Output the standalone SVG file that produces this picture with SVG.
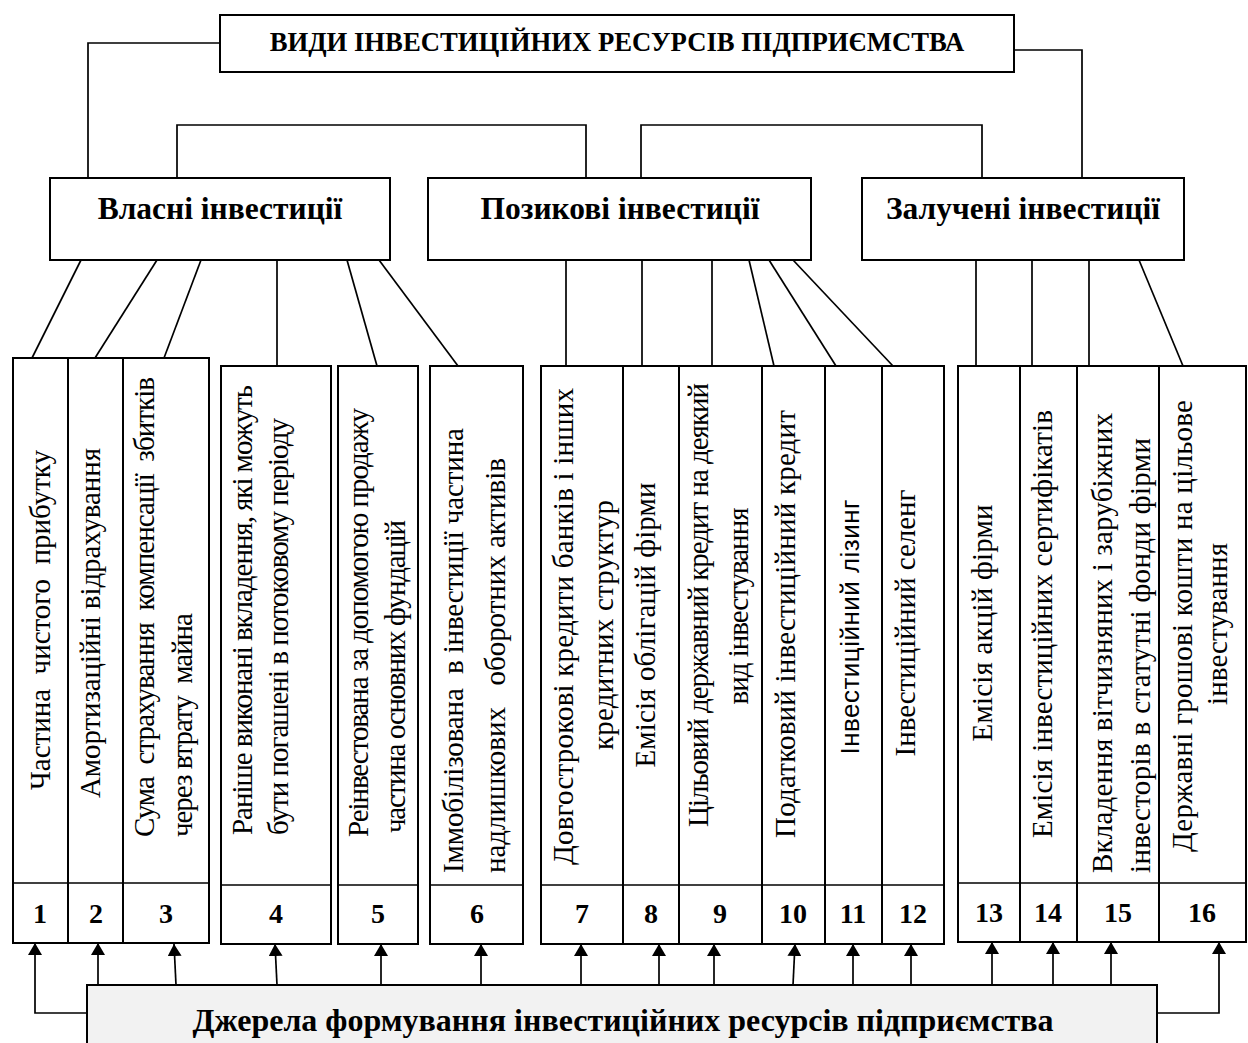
<svg xmlns="http://www.w3.org/2000/svg" width="1248" height="1043" viewBox="0 0 1248 1043">
<style>
.box{fill:#fff;stroke:#000;stroke-width:2}
.src{fill:#f2f2f2;stroke:#000;stroke-width:2}
.ln{fill:none;stroke:#000;stroke-width:1.7}
.t{font-family:"Liberation Serif","Times New Roman",serif;fill:#000}
.b{font-weight:bold}
.title{font-size:26.7px}
.grp{font-size:31.5px}
.bot{font-size:32px}
.num{font-size:28px;text-anchor:middle}
.r{font-size:29px}
.s{font-family:"Liberation Sans",Arial,sans-serif;font-size:26px;fill:#000}
.m{text-anchor:middle}
</style>
<defs>
<marker id="ah" viewBox="0 0 12 14" refX="12" refY="7" markerWidth="12" markerHeight="14" markerUnits="userSpaceOnUse" orient="auto">
<path d="M0,0 L12,7 L0,14 z" fill="#000"/>
</marker>
</defs>
<rect width="1248" height="1043" fill="#fff"/>

<g id="connectors">
<polyline class="ln" points="220,43 88,43 88,178"/>
<polyline class="ln" points="1014,50 1082,50 1082,178"/>
<polyline class="ln" points="177,178 177,125 586,125 586,178"/>
<polyline class="ln" points="641,178 641,125 982,125 982,178"/>
<line class="ln" x1="81" y1="260" x2="32" y2="358"/>
<line class="ln" x1="157" y1="260" x2="95" y2="358"/>
<line class="ln" x1="201" y1="260" x2="164" y2="358"/>
<line class="ln" x1="277" y1="260" x2="277" y2="366"/>
<line class="ln" x1="347" y1="260" x2="377" y2="366"/>
<line class="ln" x1="379" y1="260" x2="458" y2="366"/>
<line class="ln" x1="566" y1="260" x2="566" y2="366"/>
<line class="ln" x1="642" y1="260" x2="642" y2="366"/>
<line class="ln" x1="712" y1="260" x2="712" y2="366"/>
<line class="ln" x1="749" y1="260" x2="774" y2="366"/>
<line class="ln" x1="769" y1="260" x2="836" y2="366"/>
<line class="ln" x1="793" y1="260" x2="893" y2="366"/>
<line class="ln" x1="976" y1="260" x2="976" y2="366"/>
<line class="ln" x1="1032" y1="260" x2="1032" y2="366"/>
<line class="ln" x1="1089" y1="260" x2="1089" y2="366"/>
<line class="ln" x1="1139" y1="260" x2="1183" y2="366"/>
<polyline class="ln" points="87,1013 35,1013 35,943" marker-end="url(#ah)"/>
<line class="ln" x1="98" y1="985" x2="98" y2="943" marker-end="url(#ah)"/>
<line class="ln" x1="176" y1="985" x2="174" y2="944" marker-end="url(#ah)"/>
<line class="ln" x1="277" y1="985" x2="275" y2="944" marker-end="url(#ah)"/>
<line class="ln" x1="381" y1="985" x2="381" y2="944" marker-end="url(#ah)"/>
<line class="ln" x1="481" y1="985" x2="481" y2="944" marker-end="url(#ah)"/>
<line class="ln" x1="581" y1="985" x2="581" y2="944" marker-end="url(#ah)"/>
<line class="ln" x1="659" y1="985" x2="659" y2="944" marker-end="url(#ah)"/>
<line class="ln" x1="714" y1="985" x2="714" y2="944" marker-end="url(#ah)"/>
<line class="ln" x1="793" y1="985" x2="795" y2="944" marker-end="url(#ah)"/>
<line class="ln" x1="853" y1="985" x2="853" y2="944" marker-end="url(#ah)"/>
<line class="ln" x1="911" y1="985" x2="911" y2="944" marker-end="url(#ah)"/>
<line class="ln" x1="992" y1="985" x2="992" y2="942" marker-end="url(#ah)"/>
<line class="ln" x1="1053" y1="985" x2="1053" y2="942" marker-end="url(#ah)"/>
<line class="ln" x1="1111" y1="985" x2="1111" y2="942" marker-end="url(#ah)"/>
<polyline class="ln" points="1157,1013 1219,1013 1219,942" marker-end="url(#ah)"/>
</g>

<g id="title">
<rect class="box" x="220" y="15" width="794" height="57"/>
<text class="t b title m" x="617" y="51">ВИДИ ІНВЕСТИЦІЙНИХ РЕСУРСІВ ПІДПРИЄМСТВА</text>
</g>

<g id="own">
<rect class="box" x="50" y="178" width="340" height="82"/>
<text class="t b grp m" x="220" y="219">Власні інвестиції</text>
</g>
<g id="loan">
<rect class="box" x="428" y="178" width="383" height="82"/>
<text class="t b grp m" x="620" y="219">Позикові інвестиції</text>
</g>
<g id="attracted">
<rect class="box" x="862" y="178" width="322" height="82"/>
<text class="t b grp m" x="1023" y="219">Залучені інвестиції</text>
</g>

<g id="n1">
<rect class="box" x="13" y="358" width="55" height="585"/>
<line class="ln" x1="13" y1="883" x2="68" y2="883"/>
<text class="t r" xml:space="preserve" transform="translate(50,790) rotate(-90)" textLength="340" lengthAdjust="spacing">Частина  чистого  прибутку</text>
<text class="t b num" x="40" y="923">1</text>
</g>
<g id="n2">
<rect class="box" x="68" y="358" width="55" height="585"/>
<line class="ln" x1="68" y1="883" x2="123" y2="883"/>
<text class="t r" transform="translate(100,798) rotate(-90)" textLength="350" lengthAdjust="spacing">Амортизаційні відрахування</text>
<text class="t b num" x="96" y="923">2</text>
</g>
<g id="n3">
<rect class="box" x="123" y="358" width="86" height="585"/>
<line class="ln" x1="123" y1="883" x2="209" y2="883"/>
<text class="t r" xml:space="preserve" transform="translate(154,837) rotate(-90)" textLength="460" lengthAdjust="spacing">Сума  страхування  компенсації  збитків</text>
<text class="t r" xml:space="preserve" transform="translate(192,837) rotate(-90)" textLength="224" lengthAdjust="spacing">через втрату  майна</text>
<text class="t b num" x="166" y="923">3</text>
</g>

<g id="n4">
<rect class="box" x="221" y="366" width="110" height="578"/>
<line class="ln" x1="221" y1="885" x2="331" y2="885"/>
<text class="t r" transform="translate(252,835) rotate(-90)" textLength="450" lengthAdjust="spacing">Раніше виконані вкладення, які можуть</text>
<text class="t r" transform="translate(288,835) rotate(-90)" textLength="417" lengthAdjust="spacing">бути погашені в потоковому періоду</text>
<text class="t b num" x="276" y="923">4</text>
</g>
<g id="n5">
<rect class="box" x="338" y="366" width="80" height="578"/>
<line class="ln" x1="338" y1="885" x2="418" y2="885"/>
<text class="t r" transform="translate(368,837) rotate(-90)" textLength="429" lengthAdjust="spacing">Реінвестована за допомогою продажу</text>
<text class="t r" transform="translate(405,833) rotate(-90)" textLength="313" lengthAdjust="spacing">частина основних фундацій</text>
<text class="t b num" x="378" y="923">5</text>
</g>
<g id="n6">
<rect class="box" x="430" y="366" width="93" height="578"/>
<line class="ln" x1="430" y1="885" x2="523" y2="885"/>
<text class="t r" xml:space="preserve" transform="translate(463,873) rotate(-90)" textLength="445" lengthAdjust="spacing">Іммобілізована  в інвестиції частина</text>
<text class="t r" xml:space="preserve" transform="translate(505,873) rotate(-90)" textLength="415" lengthAdjust="spacing">надлишкових   оборотних активів</text>
<text class="t b num" x="477" y="923">6</text>
</g>

<g id="n7">
<rect class="box" x="541" y="366" width="82" height="578"/>
<line class="ln" x1="541" y1="885" x2="623" y2="885"/>
<text class="t r" transform="translate(573,865) rotate(-90)" textLength="477" lengthAdjust="spacing">Довгострокові кредити банків і інших</text>
<text class="t r m" transform="translate(613,625) rotate(-90)" textLength="250" lengthAdjust="spacing">кредитних структур</text>
<text class="t b num" x="582" y="923">7</text>
</g>
<g id="n8">
<rect class="box" x="623" y="366" width="56" height="578"/>
<line class="ln" x1="623" y1="885" x2="679" y2="885"/>
<text class="t r m" transform="translate(655,625) rotate(-90)" textLength="285" lengthAdjust="spacing">Емісія облігацій фірми</text>
<text class="t b num" x="651" y="923">8</text>
</g>
<g id="n9">
<rect class="box" x="679" y="366" width="83" height="578"/>
<line class="ln" x1="679" y1="885" x2="762" y2="885"/>
<text class="t r" transform="translate(708,827) rotate(-90)" textLength="444" lengthAdjust="spacing">Цільовий державний кредит на деякий</text>
<text class="t r m" transform="translate(748,606) rotate(-90)" textLength="197" lengthAdjust="spacing">вид інвестування</text>
<text class="t b num" x="720" y="923">9</text>
</g>
<g id="n10">
<rect class="box" x="762" y="366" width="63" height="578"/>
<line class="ln" x1="762" y1="885" x2="825" y2="885"/>
<text class="t r" transform="translate(795,838) rotate(-90)" textLength="428" lengthAdjust="spacing">Податковий інвестиційний кредит</text>
<text class="t b num" x="793" y="923">10</text>
</g>
<g id="n11">
<rect class="box" x="825" y="366" width="57" height="578"/>
<line class="ln" x1="825" y1="885" x2="882" y2="885"/>
<text class="s m" transform="translate(859,627) rotate(-90)" textLength="255" lengthAdjust="spacing">Інвестиційний лізинг</text>
<text class="t b num" x="853" y="923">11</text>
</g>
<g id="n12">
<rect class="box" x="882" y="366" width="62" height="578"/>
<line class="ln" x1="882" y1="885" x2="944" y2="885"/>
<text class="t r m" transform="translate(915,623) rotate(-90)" textLength="267" lengthAdjust="spacing">Інвестиційний селенг</text>
<text class="t b num" x="913" y="923">12</text>
</g>

<g id="n13">
<rect class="box" x="958" y="366" width="62" height="576"/>
<line class="ln" x1="958" y1="883" x2="1020" y2="883"/>
<text class="t r m" transform="translate(992,623) rotate(-90)" textLength="237" lengthAdjust="spacing">Емісія акцій фірми</text>
<text class="t b num" x="989" y="922">13</text>
</g>
<g id="n14">
<rect class="box" x="1020" y="366" width="57" height="576"/>
<line class="ln" x1="1020" y1="883" x2="1077" y2="883"/>
<text class="t r" transform="translate(1052,838) rotate(-90)" textLength="428" lengthAdjust="spacing">Емісія інвестиційних сертифікатів</text>
<text class="t b num" x="1048" y="922">14</text>
</g>
<g id="n15">
<rect class="box" x="1077" y="366" width="82" height="576"/>
<line class="ln" x1="1077" y1="883" x2="1159" y2="883"/>
<text class="t r" transform="translate(1112,873) rotate(-90)" textLength="460" lengthAdjust="spacing">Вкладення вітчизняних і зарубіжних</text>
<text class="t r" transform="translate(1150,873) rotate(-90)" textLength="435" lengthAdjust="spacing">інвесторів в статутні фонди фірми</text>
<text class="t b num" x="1118" y="922">15</text>
</g>
<g id="n16">
<rect class="box" x="1159" y="366" width="87" height="576"/>
<line class="ln" x1="1159" y1="883" x2="1246" y2="883"/>
<text class="t r" transform="translate(1192,852) rotate(-90)" textLength="452" lengthAdjust="spacing">Державні грошові кошти на цільове</text>
<text class="t r m" transform="translate(1227,624) rotate(-90)" textLength="162" lengthAdjust="spacing">інвестування</text>
<text class="t b num" x="1202" y="922">16</text>
</g>

<g id="sources">
<rect class="src" x="87" y="985" width="1070" height="70"/>
<text class="t b bot m" x="623" y="1031">Джерела формування інвестиційних ресурсів підприємства</text>
</g>
</svg>
